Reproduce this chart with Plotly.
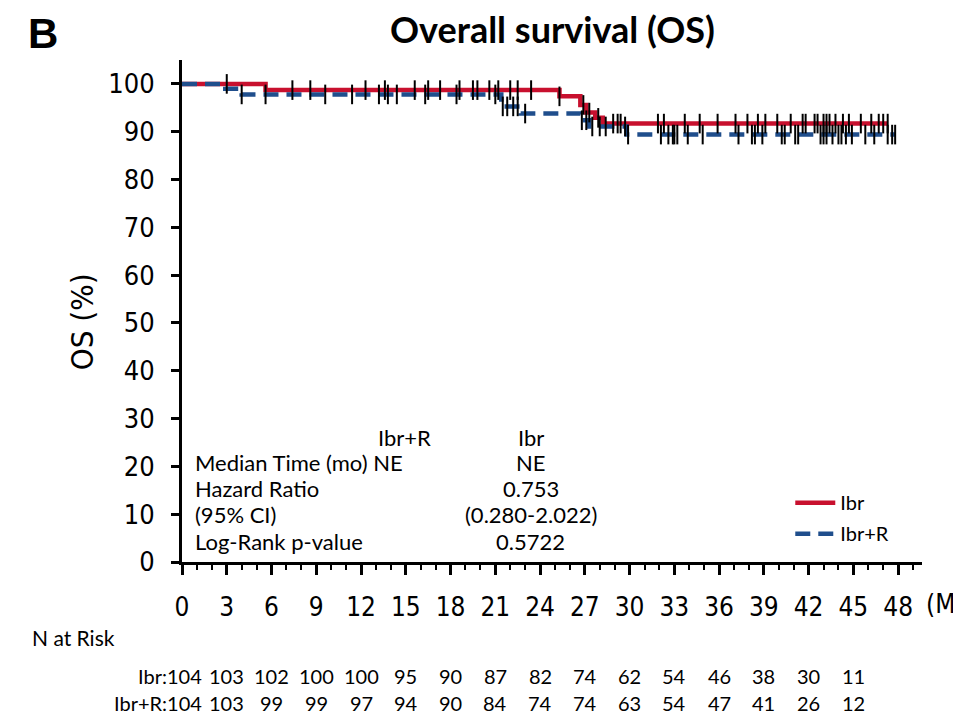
import numpy as np
import plotly.graph_objects as go

# ---------------- data ----------------
# Kaplan-Meier step points (months, OS %)
ibr_times = [0, 5.6, 25.3, 26.7, 27.1, 27.7, 28.2]
ibr_surv = [100, 98.7, 97.4, 95.6, 94.0, 92.9, 91.7]
ibr_last = 47.3

ibrr_times = [0, 2.9, 4.0, 21.4, 22.7, 26.7, 27.3, 29.8]
ibrr_surv = [100, 99.0, 97.8, 95.3, 93.8, 92.4, 91.1, 89.4]
ibrr_last = 47.8

# censoring times (months)
ibr_censor = [3.0, 7.4, 8.6, 12.3, 13.6, 15.6, 16.5, 17.3, 18.6, 19.5, 19.8, 20.6,
              21.2, 22.0, 22.5, 23.4, 25.3, 26.9, 27.3, 27.9, 28.9, 29.2, 29.4,
              31.9, 32.3, 33.7, 34.7, 35.9, 37.1, 37.9, 38.6, 39.1, 39.9, 40.8,
              41.6, 41.8, 42.4, 42.6, 43.0, 43.2, 43.4, 43.8, 44.3, 44.7, 45.5,
              46.2, 46.7, 47.0, 47.3]
ibrr_censor = [4.0, 5.6, 9.6, 11.4, 13.2, 13.8, 14.4, 16.3, 18.4, 21.0, 21.5, 21.8,
               22.2, 22.5, 23.0, 26.8, 27.1, 27.5, 28.0, 28.4, 29.7, 29.9, 32.1,
               32.6, 32.9, 33.0, 33.2, 33.9, 34.9, 37.3, 38.2, 38.4, 38.9, 40.2,
               40.4, 41.1, 41.3, 42.8, 43.0, 43.2, 43.6, 44.0, 44.2, 44.5, 44.9,
               45.8, 46.4, 47.3, 47.6, 47.8]

# number at risk
risk_times = [0, 3, 6, 9, 12, 15, 18, 21, 24, 27, 30, 33, 36, 39, 42, 45]
risk_ibr = [104, 103, 102, 100, 100, 95, 90, 87, 82, 74, 62, 54, 46, 38, 30, 11]
risk_ibrr = [104, 103, 99, 99, 97, 94, 90, 84, 74, 74, 63, 54, 47, 41, 26, 12]

x_ticks = list(range(0, 49, 3))
y_ticks = list(range(0, 101, 10))

# summary table
stat_labels = ["Median Time (mo) NE", "Hazard Ratio", "(95% CI)", "Log-Rank p-value"]
stat_values = ["NE", "0.753", "(0.280-2.022)", "0.5722"]

RED = "#C8102E"
BLUE = "#1F4E8C"
TXT = "Lato, 'Noto Sans', sans-serif"
COND = "'Liberation Sans Narrow', 'DejaVu Sans Condensed', 'Roboto Condensed', Roboto, sans-serif"


def surv_at(times, surv, t):
    i = np.searchsorted(np.array(times), np.array(t), side="right") - 1
    return list(np.array(surv)[i])


fig = go.Figure()

for name, times, surv, last, color, dash in [
    ("Ibr", ibr_times, ibr_surv, ibr_last, RED, "solid"),
    ("Ibr+R", ibrr_times, ibrr_surv, ibrr_last, BLUE, "15px,8px"),
]:
    fig.add_trace(go.Scatter(
        x=list(times) + [last], y=list(surv) + [surv[-1]],
        mode="lines", line=dict(color=color, width=4.5, shape="hv", dash=dash),
        name=name, legendgroup=name,
    ))

for times, surv, cens in [(ibr_times, ibr_surv, ibr_censor),
                          (ibrr_times, ibrr_surv, ibrr_censor)]:
    fig.add_trace(go.Scatter(
        x=cens, y=surv_at(times, surv, cens), mode="markers",
        marker=dict(symbol="line-ns", size=14, line=dict(color="black", width=2)),
        showlegend=False, hoverinfo="skip",
    ))


def note(text, x, y, size, family=TXT, xanchor="center", xref="paper", xshift=0, angle=0):
    return dict(text=text, x=x, y=y, xref=xref, yref="paper", xanchor=xanchor,
                yanchor="middle", xshift=xshift, textangle=angle, showarrow=False,
                font=dict(family=family, size=size, color="black"))


ann = []
# panel letter and title
ann.append(note("<b>B</b>", -0.188, 1.052, 42, family="'Liberation Sans', Arial"))
ann.append(note("<b>Overall survival (OS)</b>", 0.501, 1.062, 36))
# y title
ann.append(note("OS (%)", -0.135, 0.478, 31, family=COND, angle=-90))
# x unit (cut at right edge, as in the reference)
ann.append(note("(Months)", 1.003, -0.084, 26, family=COND, xanchor="left"))

# stats table
ann.append(note("Ibr+R", 0.300, 0.249, 22))
ann.append(note("Ibr", 0.4716, 0.249, 22))
stat_y = [0.199, 0.147, 0.0956, 0.0418]
for lab, val, yy in zip(stat_labels, stat_values, stat_y):
    ann.append(note(lab, 0.0149, yy, 22, xanchor="left"))
    ann.append(note(val, 0.4716, yy, 22))

# number at risk
ann.append(note("N at Risk", -0.205, -0.151, 21, xanchor="left"))
for lab, vals, yy in [("Ibr", risk_ibr, -0.227), ("Ibr+R", risk_ibrr, -0.281)]:
    for k, (t, v) in enumerate(zip(risk_times, vals)):
        if k == 0:
            ann.append(note(f"{lab}:{v}", t, yy, 20, xref="x", xanchor="right", xshift=22))
        else:
            ann.append(note(str(v), t, yy, 20, xref="x"))

fig.update_layout(
    width=961, height=715,
    margin=dict(l=174, r=47, t=52, b=161),
    paper_bgcolor="white", plot_bgcolor="white",
    annotations=ann,
    legend=dict(x=0.822, y=0.157, xanchor="left", yanchor="top",
                font=dict(family=TXT, size=20, color="black"),
                bgcolor="rgba(0,0,0,0)", tracegroupgap=2, itemwidth=40),
    showlegend=True,
)
fig.update_xaxes(
    range=[0, 49.6], tickvals=x_ticks, ticktext=[str(v) for v in x_ticks],
    showline=True, linecolor="black", linewidth=3,
    ticks="outside", ticklen=10, tickwidth=2.5, tickcolor="black",
    minor=dict(dtick=1, tick0=0, ticks="outside", ticklen=5, tickwidth=2, tickcolor="black"),
    showgrid=False, zeroline=False, ticklabelstandoff=10,
    tickfont=dict(family=COND, size=26, color="black"),
)
fig.update_yaxes(
    range=[0, 105], tickvals=y_ticks, ticktext=[str(v) for v in y_ticks],
    showline=True, linecolor="black", linewidth=3,
    ticks="outside", ticklen=8, tickwidth=2.5, tickcolor="black",
    showgrid=False, zeroline=False, ticklabelstandoff=11,
    tickfont=dict(family=COND, size=27, color="black"),
)

fig.write_html("out.html")
